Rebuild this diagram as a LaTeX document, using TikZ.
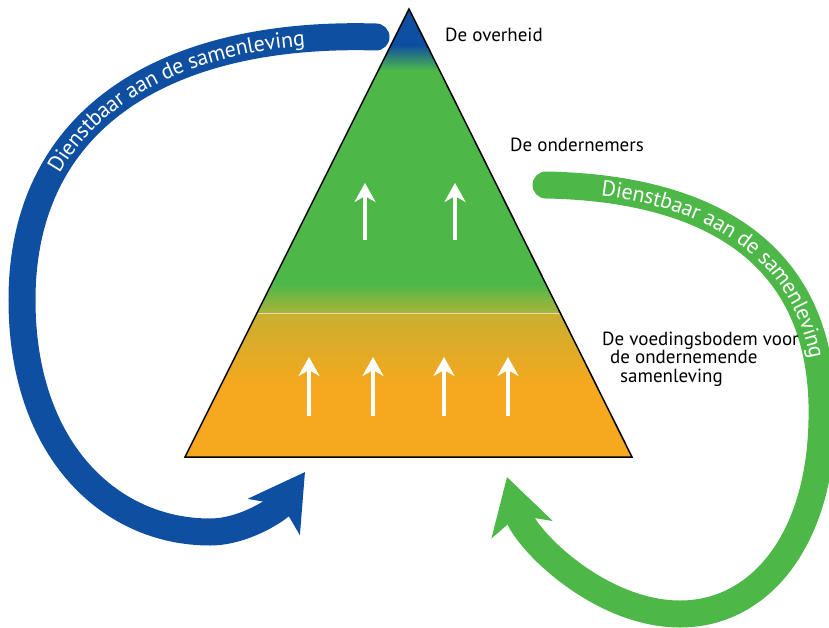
\documentclass[tikz,border=0pt]{standalone}
\usepackage{fontspec}
\setmainfont{PT Sans}
\usetikzlibrary{arrows.meta,decorations.text}
\definecolor{kblue}{HTML}{0E4FA1}
\definecolor{kgreen}{HTML}{4DB848}
\definecolor{kolive}{HTML}{A9B43B}
\definecolor{kyellow}{HTML}{C9AF30}
\definecolor{korange}{HTML}{F6A81E}

\begin{document}
\begin{tikzpicture}[x=1pt,y=-1pt]
\tikzstyle{tekst}=[font=\fontsize{19}{19}\selectfont, anchor=base west, inner sep=0pt]
\tikzstyle{band}=[line width=27pt, line cap=round]
\tikzstyle{omhoog}=[draw=white, line width=4pt, -{Stealth[length=19pt,width=21pt,inset=6pt]}]
\useasboundingbox (0,0) rectangle (829,628);

% piramide
\coordinate (top) at (409,9);
\coordinate (links) at (185,457);
\coordinate (rechts) at (632,457);
\begin{scope}
\clip (top) -- (rechts) -- (links) -- cycle;
\fill[kblue] (150,0) rectangle (700,45.5);
\shade[top color=kblue, bottom color=kgreen] (150,45) rectangle (700,70.5);
\fill[kgreen] (150,70) rectangle (700,284.5);
\shade[top color=kgreen, bottom color=kolive] (150,284) rectangle (700,313);
\shade[top color=kyellow, bottom color=korange] (150,313) rectangle (700,385.5);
\fill[korange] (150,385) rectangle (700,460);
\draw[white, opacity=0.6, line width=1pt] (150,313) -- (700,313);
\end{scope}
\draw[line width=1.5pt] (top) -- (rechts) -- (links) -- cycle;

% pijltjes
\foreach \x in {365,455} \draw[omhoog] (\x,240) -- (\x,183);
\foreach \x in {309,373,444,508} \draw[omhoog] (\x,416) -- (\x,357);

% blauwe boog
\draw[band, kblue, -{Stealth[length=54pt,width=62pt,inset=14pt]}] (376,37) .. controls (170,31) and (22,115) .. (22,300) .. controls (22,450) and (110,532) .. (210,532) .. controls (245,532) and (280,508) .. (305,472);
\path[decorate, decoration={text along path, text={|\fontsize{22}{22}\selectfont|Dienstbaar aan de samenleving}, text color=white, text align={left indent=135pt}, raise=-7pt}] (22,300) .. controls (22,115) and (170,31) .. (376,37);

% groene boog
\draw[band, kgreen, -{Stealth[length=54pt,width=62pt,inset=14pt]}] (546,185) .. controls (705,188) and (826,250) .. (822,420) .. controls (820,540) and (760,614) .. (680,614) .. controls (600,614) and (525,540) .. (507,477);
\path[decorate, decoration={text along path, text={|\fontsize{22}{22}\selectfont|Dienstbaar aan de samenleving}, text color=white, text align={left indent=56pt}, raise=-7pt}] (546,185) .. controls (705,188) and (826,250) .. (822,420);

% teksten
\node[tekst] (overheid) at (445,42) {De overheid};
\node[tekst] (ondernemers) at (510,152) {De ondernemers};
\node[tekst] (bodem1) at (602,345) {De voedingsbodem voor};
\node[tekst] (bodem2) at (610,363) {de ondernemende};
\node[tekst] (bodem3) at (620,382) {samenleving};
\end{tikzpicture}
\end{document}
